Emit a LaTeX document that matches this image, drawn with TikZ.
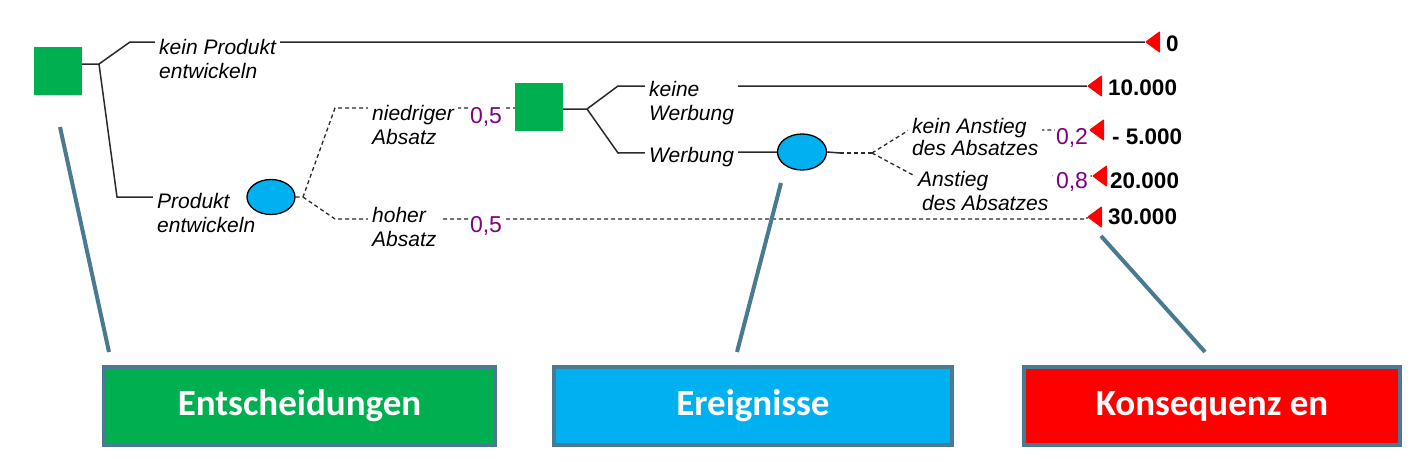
\documentclass[tikz,border=0pt]{standalone}
\usepackage{fontspec}
\setmainfont{Liberation Sans}
\newfontfamily\boxfont{Carlito}
\usetikzlibrary{shapes.geometric}
\pgfdeclarelayer{bg}
\pgfsetlayers{bg,main}
\definecolor{decgreen}{HTML}{00B050}
\definecolor{evblue}{HTML}{00B0F0}
\definecolor{steel}{HTML}{4A7A91}
\definecolor{prob}{HTML}{800080}
\definecolor{treeline}{HTML}{2A2A2A}
\tikzset{
  lbl/.style={anchor=west, align=left, fill=white, inner xsep=4pt, inner ysep=1.5pt,
    font=\fontsize{21}{23.5}\selectfont\itshape},
  pr/.style={fill=white, inner sep=1pt, text=prob, font=\fontsize{23}{25}\selectfont},
  val/.style={anchor=west, inner sep=0pt, font=\fontsize{22.5}{25}\selectfont\bfseries},
  decision/.style={fill=decgreen, minimum width=48pt, minimum height=48pt, inner sep=0pt},
  chance/.style={ellipse, fill=evblue, draw=black, line width=1.3pt,
    minimum width=48pt, minimum height=35pt, inner sep=0pt},
  solidl/.style={draw=treeline, line width=1.5pt},
  dashl/.style={draw=treeline, line width=1.3pt, dash pattern=on 4pt off 3pt},
  tip/.style={fill=red, rounded corners=1pt},
  pointer/.style={draw=steel, line width=4pt},
  legend/.style={draw=steel, line width=4pt, minimum width=392pt, minimum height=78pt,
    text=white, font=\boxfont\fontsize{37}{40}\selectfont\bfseries},
}
\begin{document}
\begin{tikzpicture}[x=1pt,y=-1pt]
\useasboundingbox (0,0) rectangle (1419,461);

% branch coordinates
\coordinate (b1) at (99,64);
\coordinate (b2) at (303,197);
\coordinate (b3) at (587,109);
\coordinate (b4) at (872,153);

% end triangles (tips)
\coordinate (t0) at (1145,42);
\coordinate (t1) at (1087,86);
\coordinate (t2) at (1089,130);
\coordinate (t3) at (1092,176);
\coordinate (t4) at (1087,217);
\foreach \t in {t0,t1,t2,t3,t4}{
  \fill[tip] (\t) -- ++(15,-11) -- ++(0,22) -- cycle;
}

% labels
\node[lbl] (kp) at (155,59) {kein Produkt\\entwickeln};
\node[lbl] (pe) at (153,213) {Produkt\\entwickeln};
\node[lbl] (na) at (368,125) {niedriger\\Absatz};
\node[lbl] (ha) at (368,227) {hoher\\Absatz};
\node[lbl] (kw) at (645,103) {keine\\Werbung};
\node[lbl] (wb) at (645,157) {Werbung};
\node[lbl, font=\fontsize{21}{22}\selectfont\itshape] (ka) at (908,137) {kein Anstieg\\des Absatzes};
\node[lbl] (an) at (914,191) {Anstieg\\\hspace{4pt}des Absatzes};

% decision and chance nodes
\node[decision] (d1) at (58,71) {};
\node[decision] (d2) at (539,107) {};
\node[chance] (e1) at (271,197) {};
\node[chance, minimum width=49pt, minimum height=36pt] (e2) at (802,152) {};

% probabilities
\node[pr] (p1) at (486,117) {0,5};
\node[pr] (p2) at (486,226) {0,5};
\node[pr] (p3) at (1072,138) {0,2};
\node[pr] (p4) at (1072,182) {0,8};

% values
\node[val] (v0) at (1166,44) {0};
\node[val] (v1) at (1108,88) {10.000};
\node[val] (v2) at (1112,137) {- 5.000};
\node[val] (v3) at (1110,181) {20.000};
\node[val] (v4) at (1108,217) {30.000};

% connectors (behind labels)
\begin{pgfonlayer}{bg}
\draw[solidl] (d1.east |- b1) -- (b1) -- (130,42) -- (t0);
\draw[solidl] (b1) -- (117,197) -- (pe.west |- 0,197);
\draw[dashl] (e1.east) -- (b2) -- (335,108) -- (d2.west |- 0,108);
\draw[dashl] (b2) -- (335,219) -- (1087,219) -- (t4);
\draw[solidl] (d2.east |- b3) -- (b3) -- (618,86) -- (t1);
\draw[solidl] (b3) -- (618,153) -- (e2.west);
\draw[solidl] (e2.east) -- (840,153);
\draw[dashl] (840,153) -- (b4);
\draw[dashl] (b4) -- (909,130) -- (t2);
\draw[dashl] (b4) -- (913,175) -- (t3);
\end{pgfonlayer}

% legend boxes
\node[legend, fill=decgreen, minimum width=391pt] (lg) at (299.5,406) {Entscheidungen};
\node[legend, fill=evblue, minimum width=398pt] (lb) at (753,406) {Ereignisse};
\node[legend, fill=red, minimum width=376pt] (lr) at (1212,406) {Konsequenz en};

% pointers
\coordinate (q1) at (60,127);
\coordinate (q2) at (781,183);
\coordinate (q3) at (1101,236);
\coordinate (r1) at (109,352);
\coordinate (r2) at (737,352);
\coordinate (r3) at (1205,352);
\draw[pointer] (q1) -- (r1);
\draw[pointer] (q2) -- (r2);
\draw[pointer] (q3) -- (r3);
\end{tikzpicture}
\end{document}
